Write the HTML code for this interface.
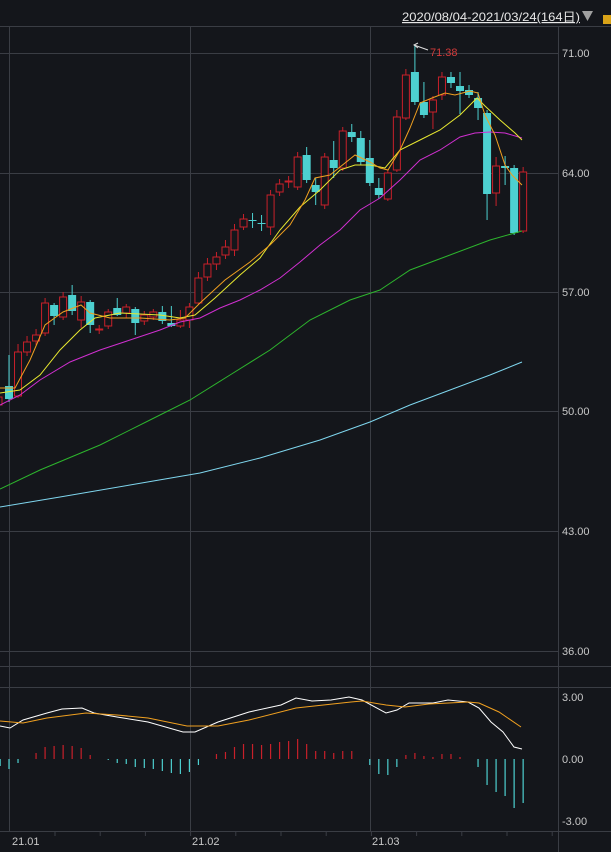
<!DOCTYPE html>
<html><head><meta charset="utf-8"><style>
html,body{margin:0;padding:0;background:#14161b;}
svg{display:block;font-family:"Liberation Sans","Noto Sans CJK JP",sans-serif;}
</style></head><body>
<svg id="s" width="611" height="852" viewBox="0 0 611 852" xmlns="http://www.w3.org/2000/svg">
<rect width="611" height="852" fill="#14161b"/>
<g stroke="#3a3d44" stroke-width="1" fill="none">
<line x1="0" y1="26.5" x2="611" y2="26.5"/>
<line x1="0" y1="53.5" x2="558" y2="53.5"/>
<line x1="0" y1="173.5" x2="558" y2="173.5"/>
<line x1="0" y1="292.5" x2="558" y2="292.5"/>
<line x1="0" y1="411.5" x2="558" y2="411.5"/>
<line x1="0" y1="531.5" x2="558" y2="531.5"/>
<line x1="0" y1="651.5" x2="558" y2="651.5"/>
<line x1="0" y1="666.5" x2="611" y2="666.5"/>
<line x1="0" y1="687.5" x2="611" y2="687.5"/>
<line x1="0" y1="831.5" x2="611" y2="831.5"/>
<line x1="9.5" y1="26" x2="9.5" y2="831"/>
<line x1="190.5" y1="26" x2="190.5" y2="831"/>
<line x1="370.5" y1="26" x2="370.5" y2="831"/>
<line x1="558.5" y1="26" x2="558.5" y2="852"/>
</g>
<g id="ticks" stroke="#3a3d44"></g>
<g fill="#c8c8c8" font-size="11">
<text x="562" y="57">71.00</text>
<text x="562" y="177">64.00</text>
<text x="562" y="296">57.00</text>
<text x="562" y="415">50.00</text>
<text x="562" y="535">43.00</text>
<text x="562" y="655">36.00</text>
<text x="562" y="701">3.00</text>
<text x="562" y="763">0.00</text>
<text x="562" y="825">-3.00</text>
<text x="12" y="845">21.01</text>
<text x="192" y="845">21.02</text>
<text x="372" y="845">21.03</text>
</g>
<text x="402" y="21" fill="#e6e6e6" font-size="12" textLength="178" lengthAdjust="spacingAndGlyphs" text-decoration="underline">2020/08/04-2021/03/24(164日)</text>
<polygon points="582,11 593,11 587.5,21" fill="#a0a0a0"/>
<rect x="603" y="15" width="8" height="9" fill="#d9a318"/>
<g id="c"></g>
<g id="l" fill="none"></g>
<line x1="414" y1="45" x2="428" y2="50" stroke="#ddd" stroke-width="1"/>
<polyline points="418,43 414,45 418,48" stroke="#ddd" fill="none"/>
<text x="430" y="56" fill="#d43a3a" font-size="11">71.38</text>
</svg>
<script>
var NS="http://www.w3.org/2000/svg";
function el(p,t,a){var e=document.createElementNS(NS,t);for(var k in a)e.setAttribute(k,a[k]);document.getElementById(p).appendChild(e);return e;}
var R="#c8202a",C="#4dd0d0";
var cd=[
[386,399,C,355,402],[352,396,R,344,398],[342,352,R,336,356],[335,341,R,329,345],[303,333,R,298,336],
[305,316,C,303,325],[297,317,R,292,320],[295,311,C,285,315],[302,320,R,296,328],[302,325,C,300,333],
[329,330,R,325,334],[312,326,R,309,329],[308,315,C,298,316],[307,313,R,304,318],[309,323,C,307,335],
[315,321,R,311,325],[312,317,R,309,320],[312,321,C,306,324],[323,326,C,306,327],[320,326,R,310,328],
[307,320,R,303,328],[278,303,R,272,305],[264,277,R,258,281],[257,264,R,252,270],[247,255,R,240,259],
[230,250,R,224,256],[219,227,R,214,230],[220,221,C,213,228],[223,224,C,215,231],[195,227,R,190,235],
[184,192,R,179,196],[181,182,R,176,188],[157,187,R,152,190],[155,180,C,147,183],[185,192,C,178,205],
[157,205,R,153,209],[160,168,C,141,178],[131,168,R,127,171],[132,137,C,124,142],[138,162,C,131,165],
[158,183,C,140,186],[188,195,C,178,199],[173,199,R,170,201],[117,170,R,110,172],[75,118,R,69,120],
[72,102,C,45,105],[102,115,C,82,118],[100,112,R,96,129],[77,95,R,72,100],[77,83,C,72,88],
[86,91,C,72,114],[90,95,C,85,98],[98,108,C,92,120],[113,194,C,110,220],[166,193,R,157,206],
[166,168,C,156,185],[168,233,C,165,235],[172,231,R,167,233]];
function X(i){return 9+9.02*i;}
cd.forEach(function(d,i){var x=X(i);
 el("c","line",{x1:x,y1:d[3],x2:x,y2:d[4],stroke:d[2],"stroke-width":1});
 var h=Math.max(1,d[1]-d[0]);
 if(d[2]==R) el("c","rect",{x:x-3.5,y:d[0],width:7,height:h,fill:"#14161b",stroke:R,"stroke-width":1});
 else el("c","rect",{x:x-4,y:d[0],width:8,height:h,fill:C});
});
el("c","rect",{x:-3,y:397,width:5,height:8,fill:"none",stroke:R});
var hv=[769,763,759,753,747,746,745,746,748,755,759,760,763,764,767,768,769,771,773,774,772,765,759,754,752,747,744,744,745,744,742,741,739,744,751,751,753,751,751,759,765,774,775,767,755,753,756,757,754,754,757,759,767,785,792,796,808,803];
hv.forEach(function(v,i){var x=X(i);if(v==759)return;el("c","line",{x1:x,y1:759,x2:x,y2:v,stroke:v<759?R:C,"stroke-width":1.2});});
el("c","line",{x1:0,y1:759,x2:0,y2:766,stroke:C,"stroke-width":1.5});
for(var t=55;t<558;t+=45.2){el("ticks","line",{x1:t,y1:831,x2:t,y2:836});}
function pl(pts,col,w){el("l","polyline",{points:pts.map(function(p){return p.join(",")}).join(" "),stroke:col,"stroke-width":w||1});}
pl([[0,507],[60,497],[130,485],[200,473],[260,458],[320,440],[370,422],[410,405],[450,390],[490,375],[522,362]],"#7fd6ee");
pl([[0,489],[40,470],[100,445],[150,420],[190,400],[230,375],[270,350],[310,320],[350,300],[380,290],[410,270],[450,255],[490,240],[522,231]],"#2db52d");
pl([[0,405],[20,395],[40,380],[70,362],[100,350],[130,340],[160,330],[180,322],[200,318],[220,308],[240,300],[260,290],[280,278],[300,262],[320,245],[340,230],[360,210],[380,198],[400,180],[420,160],[440,150],[460,137],[475,133],[490,132],[505,133],[522,138]],"#d02fd0");
pl([[0,393],[20,390],[40,375],[60,350],[80,330],[95,318],[120,313],[160,315],[180,318],[195,315],[215,298],[240,275],[260,258],[280,230],[300,207],[320,190],[340,170],[355,165],[370,165],[385,168],[400,150],[420,140],[440,130],[460,115],[477,98],[485,106],[500,120],[515,133],[522,140]],"#e8e830");
pl([[0,388],[15,388],[30,360],[45,325],[63,312],[81,305],[90,313],[110,318],[140,318],[170,320],[185,318],[200,303],[225,280],[250,262],[270,245],[290,225],[305,200],[315,178],[330,175],[345,163],[355,155],[370,162],[380,168],[388,170],[400,150],[410,128],[420,103],[432,98],[445,93],[455,95],[470,91],[478,93],[485,115],[495,135],[505,165],[512,175],[522,185]],"#f0a020");
pl([[0,726],[10,728],[23,720],[47,713],[62,709],[82,708],[94,713],[117,717],[148,722],[183,732],[195,732],[218,722],[249,712],[281,705],[296,698],[312,701],[331,700],[349,697],[362,700],[386,713],[397,710],[409,703],[433,703],[448,700],[468,702],[479,708],[491,722],[503,732],[514,747],[522,749]],"#ffffff");
pl([[0,721],[23,723],[47,718],[86,713],[117,715],[148,718],[187,726],[218,726],[249,720],[296,708],[351,702],[362,701],[386,705],[405,707],[429,704],[468,702],[479,703],[499,712],[521,727]],"#f0a020");
</script>
</body></html>
